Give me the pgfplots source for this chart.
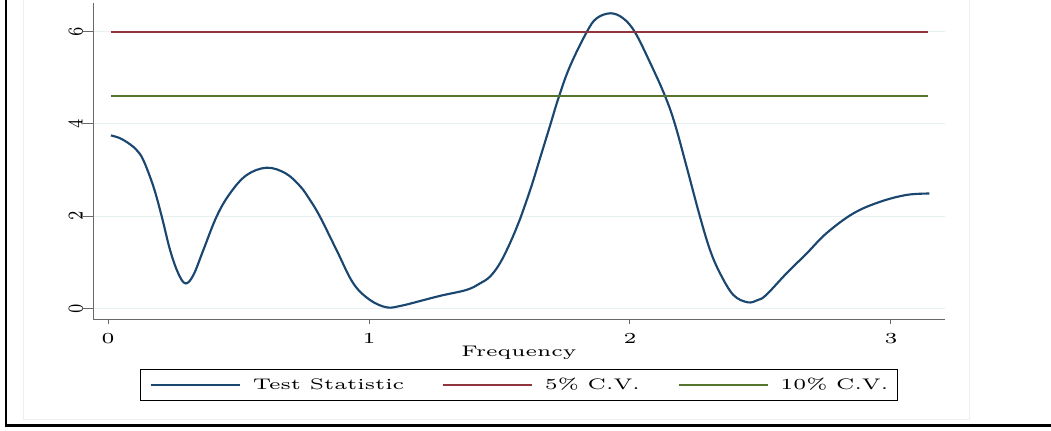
\documentclass[border=0pt]{standalone}
\usepackage{graphicx}
\usepackage{pgfplots}
\pgfplotsset{compat=1.18}
\definecolor{stnavy}{RGB}{26,71,111}
\definecolor{stmaroon}{RGB}{144,53,59}
\definecolor{stgreen}{RGB}{85,117,47}
\definecolor{stgrid}{RGB}{232,239,241}
\definecolor{stregion}{RGB}{236,240,242}
\definecolor{staxis}{RGB}{105,105,105}
\newcommand{\hs}[1]{\scalebox{2.64}[1.917]{\fontsize{6}{7}\selectfont #1}}
\newcommand{\vs}[1]{\rotatebox{90}{\scalebox{1.917}[2.64]{\fontsize{6}{7}\selectfont #1}}}
\begin{document}
\fontsize{11.5}{13.8}\selectfont
\begin{tikzpicture}
\useasboundingbox (0,0) rectangle (788.25pt,-322.5pt);
% faint graph region edges
\draw[stregion, line width=0.75pt] (17.25pt,0pt) -- (17.25pt,-314.25pt) -- (726.75pt,-314.25pt) -- (726.75pt,0pt);
% black outer frame (left and bottom)
\draw[black, line width=1.5pt] (4.5pt,0pt) -- (4.5pt,-319.5pt);
\draw[black, line width=2pt] (3.75pt,-319pt) -- (788.25pt,-319pt);
\begin{axis}[
  at={(69.75pt,-239.25pt)}, anchor=south west,
  scale only axis, width=639pt, height=237pt,
  xmin=-0.0575, xmax=3.207, ymin=-0.232, ymax=6.623,
  axis x line*=bottom, axis y line*=left,
  axis line style={staxis, line width=0.75pt, -},
  xtick={0,1,2,3}, ytick={0,2,4,6},
  tick align=outside, major tick length=7.5pt,
  tick style={staxis, line width=0.75pt},
  xtick style={/pgfplots/major tick length=3.75pt},
  ymajorgrids, grid style={stgrid, line width=0.75pt},
  xticklabel={\hs{$\pgfmathprintnumber{\tick}$}},
  yticklabel={\vs{$\pgfmathprintnumber{\tick}$}},
  xticklabel style={anchor=north, inner sep=0pt, yshift=-3.5pt},
  yticklabel style={anchor=east, inner sep=0pt},
  xlabel={\hs{Frequency}},
  xlabel style={at={(axis description cs:0.5,0)}, anchor=north, inner sep=0pt, yshift=-20.25pt},
  legend columns=3,
  legend style={at={(0.5,0)}, anchor=north, yshift=-37.5pt, draw=black, line width=0.75pt,
    inner xsep=7pt, inner ysep=6.3pt, nodes={inner sep=0pt},
    /tikz/every odd column/.append style={column sep=9pt},
    /tikz/every even column/.append style={column sep=28.5pt}},
  legend image code/.code={\draw[#1] (0pt,0pt) -- (66.75pt,0pt);},
]
\addplot[stnavy, line width=1.6pt, smooth, tension=0.6] coordinates {
(0.011,3.75) (0.046,3.69) (0.084,3.56) (0.110,3.43) (0.135,3.22) (0.174,2.64) (0.206,1.99)
(0.238,1.26) (0.269,0.76) (0.297,0.54) (0.327,0.72) (0.365,1.26) (0.416,1.99)
(0.467,2.49) (0.531,2.89) (0.608,3.05) (0.680,2.93) (0.736,2.65) (0.774,2.35) (0.812,1.99)
(0.876,1.26) (0.940,0.54) (1.004,0.18) (1.068,0.02) (1.119,0.05) (1.170,0.12)
(1.272,0.27) (1.374,0.40) (1.425,0.54) (1.464,0.69) (1.502,0.98) (1.540,1.41)
(1.572,1.84) (1.591,2.13) (1.623,2.66) (1.655,3.25) (1.693,3.95) (1.727,4.58)
(1.770,5.25) (1.834,5.99) (1.872,6.29) (1.926,6.40) (1.974,6.29) (2.019,5.99)
(2.077,5.33) (2.134,4.61) (2.172,4.00) (2.217,3.07) (2.268,1.99) (2.307,1.26)
(2.345,0.76) (2.396,0.29) (2.451,0.13) (2.490,0.18) (2.522,0.29) (2.600,0.76) (2.677,1.19)
(2.753,1.63) (2.856,2.06) (2.958,2.31) (3.060,2.46) (3.147,2.49)
};
\addlegendentry{\hs{Test Statistic}}
\addplot[stmaroon, line width=1.2pt] coordinates {(0.012,6) (3.1416,6)};
\addlegendentry{\hs{5\% C.V.}}
\addplot[stgreen, line width=1.2pt] coordinates {(0.012,4.61) (3.1416,4.61)};
\addlegendentry{\hs{10\% C.V.}}
\end{axis}
\end{tikzpicture}
\end{document}
